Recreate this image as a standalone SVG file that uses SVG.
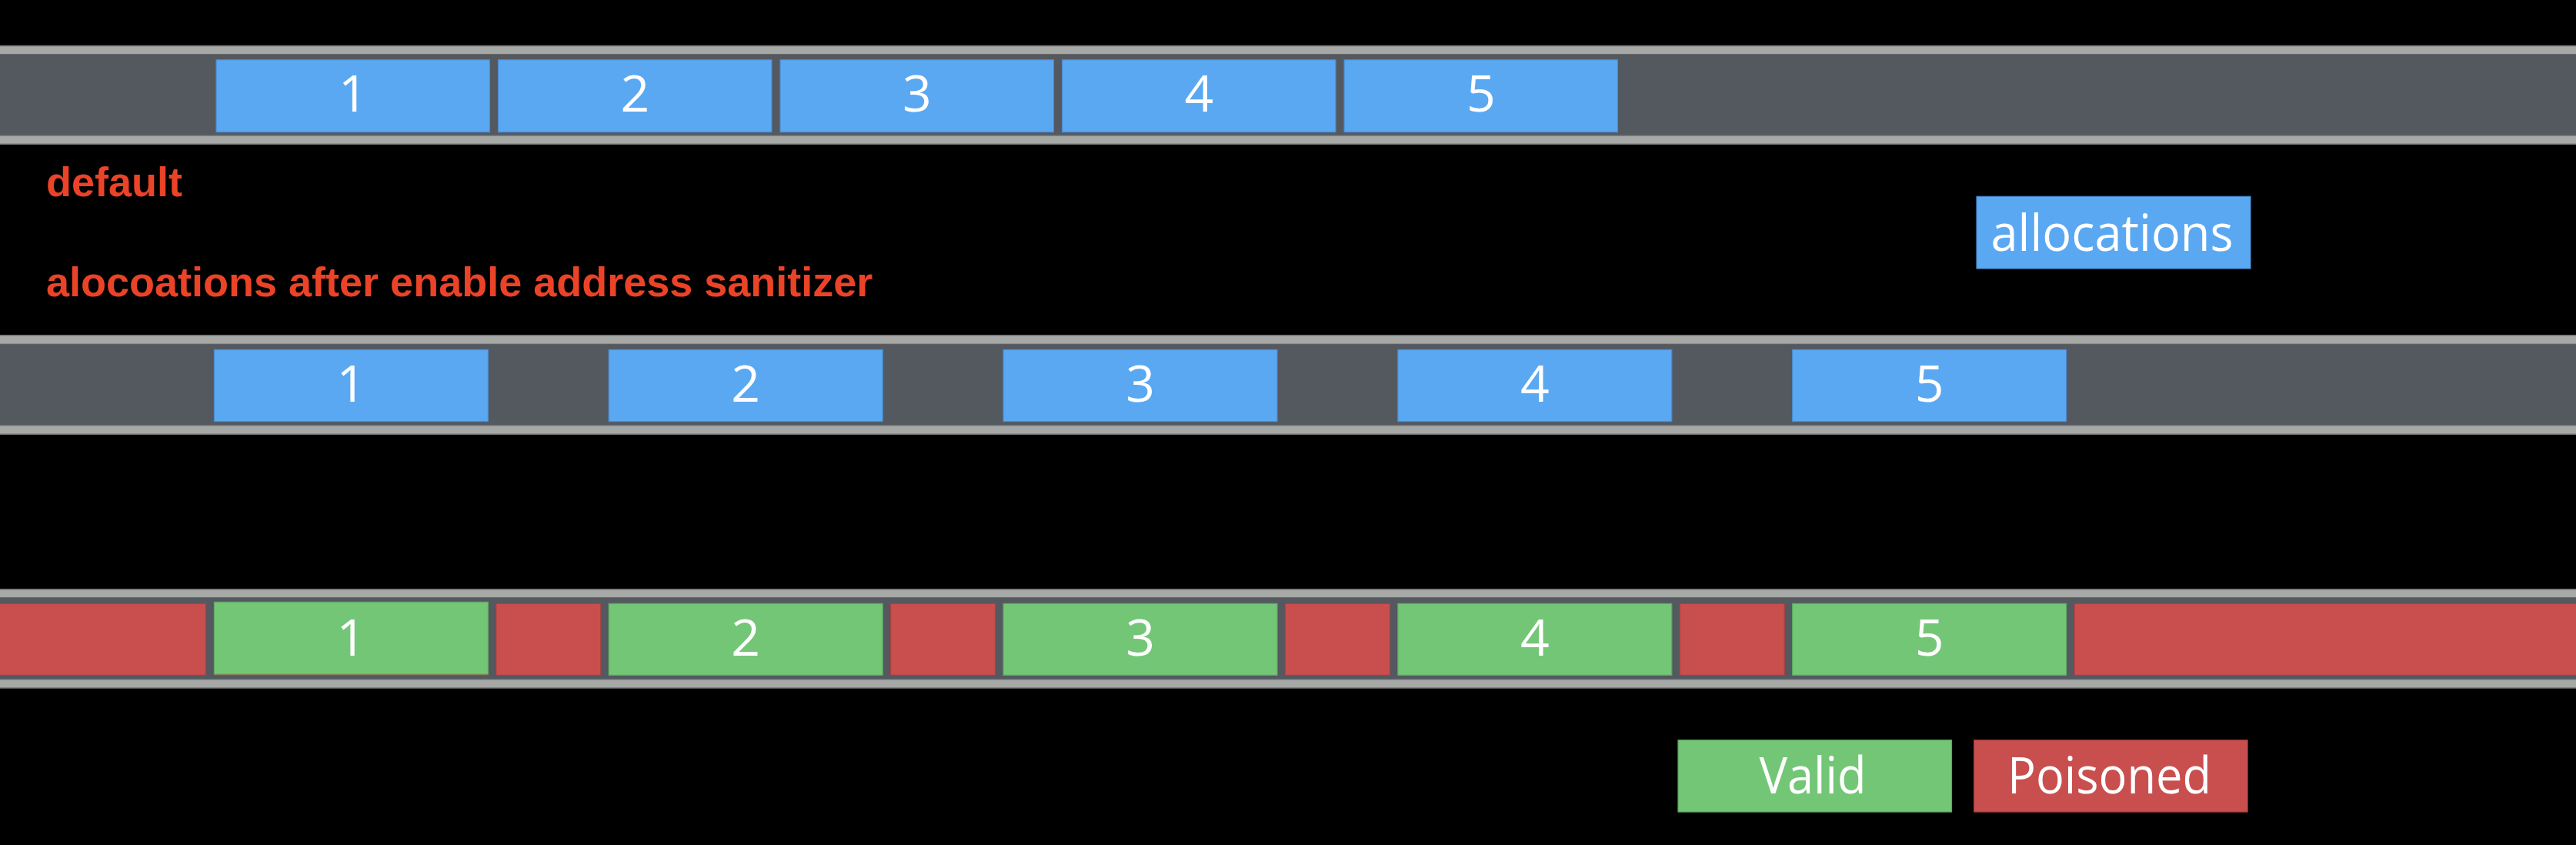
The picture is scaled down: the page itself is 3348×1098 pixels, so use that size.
<svg xmlns="http://www.w3.org/2000/svg" width="3348" height="1098" viewBox="0 0 3348 1098">
<style>
.strip{fill:#A7A9A7;stroke:#6E7072;stroke-width:1.5}
.band{fill:#54585F}
.blue{fill:#5BA8F2;stroke:#4A8ACB;stroke-width:1.2}
.green{fill:#74C677;stroke:#5FA862;stroke-width:1.2}
.red{fill:#C94F4F;stroke:#A84040;stroke-width:1.2}
.num{font-family:"Open Sans","DejaVu Sans",sans-serif;font-size:66px;fill:#FFFFFF;text-anchor:middle}
.cap{font-family:"Liberation Sans",Arial,sans-serif;font-weight:bold;font-size:54px;fill:#EA4328}
</style>
<rect x="0" y="0" width="3348" height="1098" fill="#000000"/>

<g id="bar-default">
<rect class="strip" x="-2" y="59.5" width="3352" height="11.2"/>
<rect class="band" x="0" y="70.7" width="3348" height="105.3"/>
<rect class="strip" x="-2" y="176" width="3352" height="11.3"/>
</g>
<g id="default-1"><rect class="blue" x="281" y="77.7" width="355.5" height="94"/><text class="num" x="458.8" y="145">1</text></g>
<g id="default-2"><rect class="blue" x="647.5" y="77.7" width="355.5" height="94"/><text class="num" x="825.3" y="145">2</text></g>
<g id="default-3"><rect class="blue" x="1014" y="77.7" width="355.5" height="94"/><text class="num" x="1191.8" y="145">3</text></g>
<g id="default-4"><rect class="blue" x="1380.5" y="77.7" width="355.5" height="94"/><text class="num" x="1558.3" y="145">4</text></g>
<g id="default-5"><rect class="blue" x="1747" y="77.7" width="355.5" height="94"/><text class="num" x="1924.8" y="145">5</text></g>

<g id="label-default"><text class="cap" x="60" y="255">default</text></g>
<g id="label-asan"><text class="cap" x="60" y="385">alocoations after enable address sanitizer</text></g>

<g id="legend-allocations"><rect class="blue" x="2569" y="255.3" width="356" height="93.7"/><text class="num" x="2745" y="325.5" textLength="315" lengthAdjust="spacingAndGlyphs">allocations</text></g>

<g id="bar-asan">
<rect class="strip" x="-2" y="435.7" width="3352" height="11.6"/>
<rect class="band" x="0" y="447.3" width="3348" height="105.4"/>
<rect class="strip" x="-2" y="552.7" width="3352" height="11.6"/>
</g>
<g id="asan-1"><rect class="blue" x="278.4" y="454.3" width="356" height="93.4"/><text class="num" x="456.4" y="521.7">1</text></g>
<g id="asan-2"><rect class="blue" x="791.2" y="454.3" width="356" height="93.4"/><text class="num" x="969.2" y="521.7">2</text></g>
<g id="asan-3"><rect class="blue" x="1304" y="454.3" width="356" height="93.4"/><text class="num" x="1482" y="521.7">3</text></g>
<g id="asan-4"><rect class="blue" x="1816.8" y="454.3" width="356" height="93.4"/><text class="num" x="1994.8" y="521.7">4</text></g>
<g id="asan-5"><rect class="blue" x="2329.6" y="454.3" width="356" height="93.4"/><text class="num" x="2507.6" y="521.7">5</text></g>

<g id="bar-shadow">
<rect class="strip" x="-2" y="765.7" width="3352" height="11"/>
<rect class="band" x="0" y="776.7" width="3348" height="106"/>
<rect class="strip" x="-2" y="882.7" width="3352" height="11.3"/>
</g>
<g id="poison-0"><rect class="red" x="-2" y="784.3" width="269.5" height="93"/></g>
<g id="valid-1"><rect fill="#C94F4F" x="278.4" y="784.3" width="356" height="93"/><rect class="green" x="278.4" y="782.3" width="356" height="93.7"/><text class="num" x="456.4" y="851.7">1</text></g>
<g id="poison-1"><rect class="red" x="644.8" y="784.3" width="136" height="93"/></g>
<g id="valid-2"><rect class="green" x="791.2" y="784.3" width="356" height="93"/><text class="num" x="969.2" y="851.7">2</text></g>
<g id="poison-2"><rect class="red" x="1157.6" y="784.3" width="136" height="93"/></g>
<g id="valid-3"><rect class="green" x="1304" y="784.3" width="356" height="93"/><text class="num" x="1482" y="851.7">3</text></g>
<g id="poison-3"><rect class="red" x="1670.4" y="784.3" width="136" height="93"/></g>
<g id="valid-4"><rect class="green" x="1816.8" y="784.3" width="356" height="93"/><text class="num" x="1994.8" y="851.7">4</text></g>
<g id="poison-4"><rect class="red" x="2183.2" y="784.3" width="136" height="93"/></g>
<g id="valid-5"><rect class="green" x="2329.6" y="784.3" width="356" height="93"/><text class="num" x="2507.6" y="851.7">5</text></g>
<g id="poison-5"><rect class="red" x="2696" y="784.3" width="654" height="93"/></g>

<g id="legend-valid"><rect class="green" x="2181" y="961.7" width="355.5" height="93.3"/><text class="num" x="2356" y="1031" textLength="139" lengthAdjust="spacingAndGlyphs">Valid</text></g>
<g id="legend-poisoned"><rect class="red" x="2565.6" y="961.7" width="355.5" height="93.3"/><text class="num" x="2741.5" y="1031" textLength="265" lengthAdjust="spacingAndGlyphs">Poisoned</text></g>

<g id="connectors"></g>
</svg>
